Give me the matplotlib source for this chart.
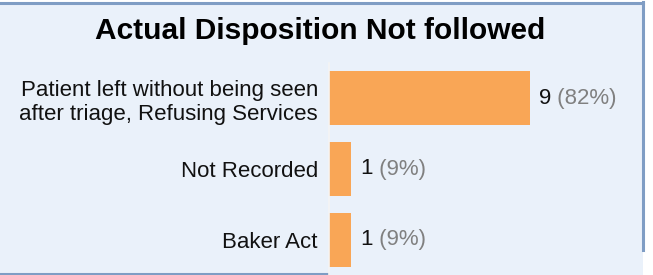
import matplotlib
matplotlib.use("Agg")
import matplotlib.pyplot as plt
from matplotlib.patches import Rectangle
from matplotlib.lines import Line2D

plt.rcParams['font.family'] = ['Liberation Sans', 'DejaVu Sans']

categories = ["Patient left without being seen\nafter triage, Refusing Services",
              "Not Recorded",
              "Baker Act"]
counts = [9, 1, 1]
percents = [82, 9, 9]
title = "Actual Disposition Not followed"

W, H = 653, 275
bg = "#eaf1fa"
border = "#7f9dc4"
bar_color = "#f9a656"

fig = plt.figure(figsize=(W / 100, H / 100), dpi=100)
fig.patch.set_facecolor("white")

def fx(px):
    return px / W

def fy(py):
    return 1 - py / H

# panel background and frame
fig.patches.append(Rectangle((0, 0), fx(643), fy(3), transform=fig.transFigure,
                             facecolor=bg, edgecolor="none", zorder=-10))
fig.lines.append(Line2D([0, fx(643)], [fy(2.5), fy(2.5)], transform=fig.transFigure,
                        color=border, lw=2.2, zorder=-5))
fig.lines.append(Line2D([fx(643), fx(643)], [fy(2), fy(250)], transform=fig.transFigure,
                        color=border, lw=2.2, zorder=-5))
fig.lines.append(Line2D([0, fx(327)], [fy(273.5), fy(273.5)], transform=fig.transFigure,
                        color=border, lw=2.2, zorder=-5))

fig.text(fx(320), fy(31), title, ha="center", va="center",
         fontsize=21.5, fontweight="bold", color="black")

ax = fig.add_axes([fx(329), 0, fx(643) - fx(329), fy(63)], zorder=5)
ax.set_facecolor("none")
y = list(range(len(categories)))
ax.barh(y, counts, height=0.76, color=bar_color, edgecolor="none")
ax.set_xlim(0, 314 / 22.33)
ax.set_ylim(len(categories) - 0.5, -0.5)
ax.set_xticks([])
ax.set_yticks(y)
ax.set_yticklabels(categories, fontsize=16, color="#111111")
ax.tick_params(axis="y", length=0, pad=8)
for s in ["top", "right", "bottom"]:
    ax.spines[s].set_visible(False)
ax.spines["left"].set_color("#f4f4f4")
ax.spines["left"].set_linewidth(1.2)

for yi, c, p in zip(y, counts, percents):
    t = ax.annotate(str(c), xy=(c, yi), xytext=(6.5, 0), textcoords="offset points",
                    ha="left", va="center", fontsize=16, color="#111111")
    ax.annotate(f" ({p}%)", xy=(1, 0), xycoords=t, ha="left", va="bottom",
                fontsize=16, color="#808080")

fig.savefig("out.png", dpi=100, facecolor=fig.get_facecolor())
